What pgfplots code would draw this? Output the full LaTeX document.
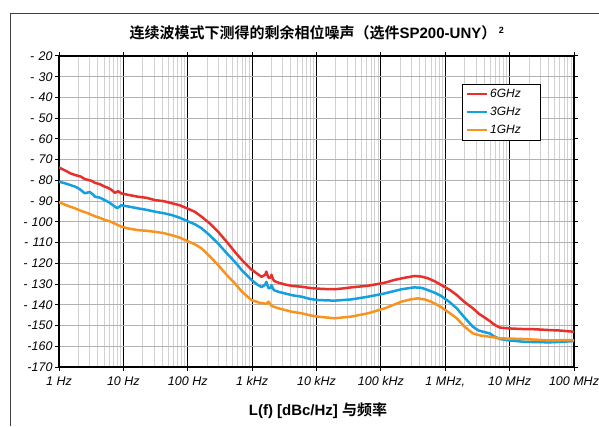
\documentclass[border=0pt]{standalone}
\usepackage{pgfplots}
\pgfplotsset{compat=1.18}
\usepackage{fontspec}
\setmainfont{Liberation Sans}
\newfontfamily\cjk{Noto Sans CJK SC}[BoldFont={Noto Sans CJK SC Bold}]
\definecolor{cRed}{HTML}{E8302A}
\definecolor{cBlue}{HTML}{12A0E0}
\definecolor{cOrange}{HTML}{F7931E}
\begin{document}
\begin{tikzpicture}
\useasboundingbox (0pt,0pt) rectangle (599pt,426pt);
\draw[black!75, line width=0.9pt] (10.5pt,0pt) -- (10.5pt,412.5pt) -- (599pt,412.5pt);
\node[font=\bfseries\fontsize{15}{17}\selectfont] at (317pt,393pt) {{\cjk 连续波模式下测得的剩余相位噪声（选件}SP200-UNY{\cjk ）}\,\textsuperscript{\fontsize{9}{10}\selectfont 2}};
\node[font=\bfseries\fontsize{15}{17}\selectfont] at (318pt,15pt) {L(f) [dBc/Hz] {\cjk 与频率}};
\begin{axis}[
  at={(59pt,59pt)}, anchor=south west,
  scale only axis, width=515pt, height=311pt,
  xmode=log, xmin=1, xmax=1e8, ymin=-170, ymax=-20,
  xtick={1,10,100,1000,10000,100000,1000000,10000000,100000000},
  xticklabels={1 Hz,10 Hz,100 Hz,1 kHz,10 kHz,100 kHz,{1 MHz,},10 MHz,100 MHz},
  ytick={-170,-160,-150,-140,-130,-120,-110,-100,-90,-80,-70,-60,-50,-40,-30,-20},
  yticklabels={-170,-160,-150,-\,\,140,-\,\,130,-\,\,120,-\,\,110,-\,\,100,-\,\,90,-\,\,80,-\,\,70,-\,\,60,-\,\,50,-\,\,40,-\,\,30,-\,\,20},
  ticklabel style={font=\itshape\fontsize{12.5}{14}\selectfont},
  xticklabel style={yshift=-2pt},
  yticklabel style={xshift=1pt},
  tick align=outside, major tick length=4pt, minor tick length=0pt,
  tick style={black, line width=1pt},
  xmajorgrids, xminorgrids, ymajorgrids,
  major x grid style={black, line width=0.8pt},
  minor x grid style={black!18, line width=0.8pt},
  major y grid style={black!30, line width=0.8pt},
  axis line style={black, line width=1.5pt},
  legend style={at={(0.7825,0.91)}, anchor=north west, draw=black, line width=0.8pt, fill=white,
    font=\itshape\fontsize{12}{14}\selectfont, inner xsep=4pt, inner ysep=3pt, row sep=4pt},
  legend cell align=left,
  legend image code/.code={\draw[#1, line width=1.8pt] (0pt,0pt) -- (20pt,0pt);},
  every axis plot/.append style={line width=2.5pt, line join=round},
]
\addplot[cRed] coordinates {
(1,-73.8) (1.3,-75.5) (1.5,-76.6) (1.78,-77.4) (2.2,-78.2) (2.5,-79.3) (2.85,-79.8) (3.2,-80.2) (3.63,-81.2) (4.3,-81.8) (5.13,-83) (5.8,-83.6) (6.5,-84.5) (7.41,-86) (8.3,-85.2) (9.33,-86.3) (12,-87) (17,-87.9) (23,-88.4) (30.9,-89.5) (42,-90) (56.2,-91) (75,-92) (100,-93.6) (130,-95.2) (164,-97.5) (220,-100.8) (295,-104.7) (400,-109.5) (537,-114.4) (700,-118.5) (977,-123) (1200,-125) (1400,-126.5) (1600,-125.5) (1660,-124) (1750,-126) (1800,-127) (1950,-126.8) (2000,-125.5) (2100,-127.5) (2200,-128.5) (2600,-129.4) (3236,-130.2) (4200,-130.9) (5888,-131.3) (8000,-131.9) (10471,-132.2) (14000,-132.4) (19055,-132.5) (26000,-132.1) (34674,-131.6) (63096,-130.8) (89125,-130) (120000,-129.2) (162181,-128) (230000,-127) (331131,-126.1) (430000,-126.4) (537032,-127.2) (700000,-128.8) (870964,-130.5) (1.2e6,-133) (1.51e6,-135.3) (2e6,-138.7) (2.69e6,-141.7) (3.3e6,-144.2) (3.89e6,-145.7) (4.9e6,-147.8) (5.8e6,-149.6) (7.08e6,-151) (1e7,-151.4) (1.62e7,-151.7) (2.5e7,-151.8) (4.17e7,-152.2) (6e7,-152.4) (1e8,-153)
};
\addlegendentry{6GHz\hspace*{14pt}}
\addplot[cBlue] coordinates {
(1,-80.6) (1.3,-81.6) (1.78,-83) (2.1,-84.2) (2.5,-86.2) (3.0,-85.6) (3.3,-86.6) (3.63,-87.9) (4.3,-88.3) (5.13,-89.5) (6,-90.6) (6.9,-92) (8,-93.4) (9.33,-92) (12,-92.6) (17,-93.5) (23,-94.2) (30.9,-95.1) (42,-95.8) (56.2,-96.7) (75,-98) (100,-99.7) (130,-101.2) (164,-103.1) (220,-106.5) (295,-110.4) (400,-115) (537,-119.2) (700,-123.5) (977,-128) (1200,-130.2) (1400,-131.5) (1600,-130.2) (1660,-128.9) (1750,-131) (1800,-132) (1950,-131.8) (2000,-130.5) (2100,-132.2) (2200,-133) (2600,-133.8) (3236,-134.5) (4200,-135.4) (5888,-136.1) (8000,-137.2) (10471,-137.7) (19055,-138) (34674,-137.4) (63096,-136.1) (114815,-134.5) (208930,-132.5) (331131,-131.6) (430000,-131.8) (537032,-132.9) (700000,-134.3) (870964,-135.8) (1.2e6,-139) (1.51e6,-141.7) (2e6,-146.2) (2.69e6,-150.6) (3.3e6,-152.4) (3.89e6,-153) (4.9e6,-153.8) (5.8e6,-155.3) (7.08e6,-156.5) (1e7,-157.2) (1.62e7,-157.8) (2.5e7,-158) (4.17e7,-158.1) (6e7,-157.9) (1e8,-157.5)
};
\addlegendentry{3GHz\hspace*{14pt}}
\addplot[cOrange] coordinates {
(1,-90.5) (1.3,-92) (1.78,-93.5) (2.2,-94.7) (2.85,-95.9) (3.6,-97.3) (4.3,-98) (5.13,-99.1) (6,-99.6) (7,-100.5) (8,-101.4) (9.33,-102.3) (12,-103.2) (17,-104) (23,-104.3) (30.9,-104.8) (42,-105.4) (56.2,-106.4) (75,-107.6) (100,-109.3) (130,-110.9) (164,-112.8) (220,-116.6) (295,-120.8) (400,-125.5) (537,-129.6) (700,-133.8) (977,-137.7) (1300,-139) (1660,-139.5) (1800,-138.5) (2000,-140.5) (2500,-141.6) (3236,-142.5) (4200,-143.4) (5888,-144.1) (8000,-145.1) (10471,-145.7) (19055,-146.5) (34674,-145.7) (63096,-144.1) (114815,-141.7) (208930,-138.5) (290000,-137.4) (375837,-136.9) (480000,-137.4) (602560,-138.5) (750000,-140) (900000,-141.5) (1.2e6,-144.2) (1.51e6,-146.5) (2e6,-150.6) (2.69e6,-153.8) (3.5e6,-154.8) (4.9e6,-155.4) (7.08e6,-156.2) (1e7,-156.3) (1.62e7,-156.5) (2.5e7,-156.8) (4.17e7,-157.2) (6e7,-157.1) (1e8,-157)
};
\addlegendentry{1GHz\hspace*{14pt}}
\end{axis}
\end{tikzpicture}
\end{document}
